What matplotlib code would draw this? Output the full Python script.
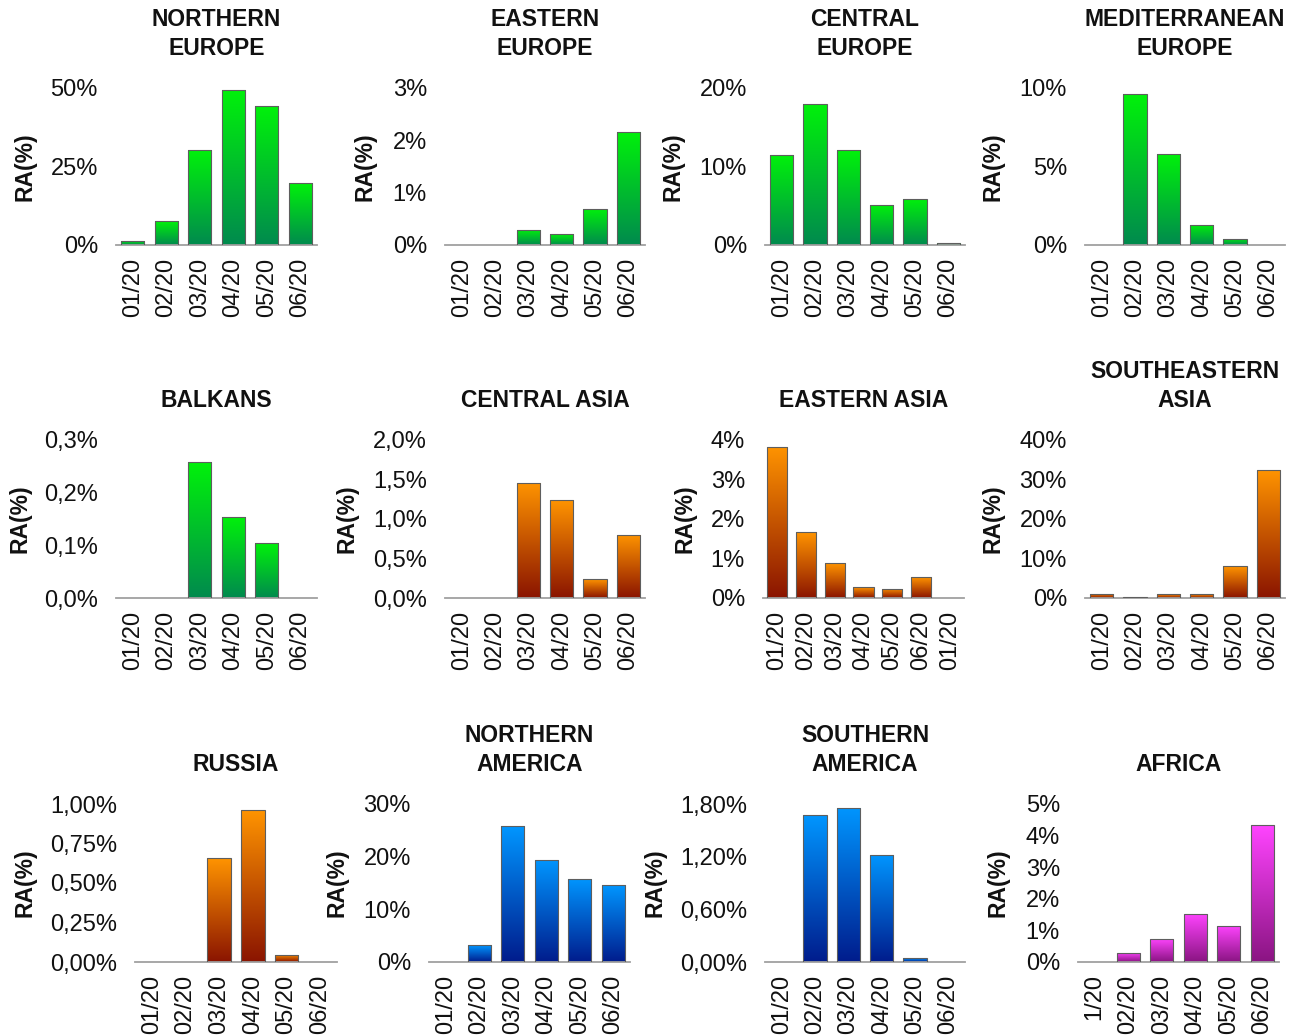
import numpy as np
import matplotlib
matplotlib.use("Agg")
import matplotlib.pyplot as plt
from matplotlib.colors import to_rgb
from matplotlib.ticker import FixedLocator, FuncFormatter

plt.rcParams['font.family'] = ['Liberation Sans', 'DejaVu Sans']

months = ['01/20', '02/20', '03/20', '04/20', '05/20', '06/20']
months_east_asia = months + ['01/20']
months_africa = ['1/20', '02/20', '03/20', '04/20', '05/20', '06/20']

# relative abundance per month, in percent
northern_europe = [1.3, 7.6, 30.3, 49.4, 44.3, 19.7]
eastern_europe = [0, 0, 0.29, 0.21, 0.69, 2.16]
central_europe = [11.5, 18.0, 12.1, 5.1, 5.9, 0.25]
mediterranean_europe = [0, 9.6, 5.8, 1.3, 0.4, 0]
balkans = [0, 0, 0.258, 0.154, 0.104, 0]
central_asia = [0, 0, 1.46, 1.24, 0.24, 0.80]
eastern_asia = [3.83, 1.66, 0.88, 0.27, 0.23, 0.53, 0]
southeastern_asia = [1.1, 0.2, 1.0, 1.0, 8.0, 32.4]
russia = [0, 0, 0.656, 0.96, 0.045, 0]
northern_america = [0, 3.2, 25.8, 19.4, 15.8, 14.6]
southern_america = [0, 1.672, 1.76, 1.22, 0.04, 0]
africa = [0, 0.29, 0.73, 1.52, 1.14, 4.33]

# gradient pairs (top, bottom)
GREEN = ('#00f20a', '#008a4e')
ORANGE = ('#ff9400', '#8a1400')
BLUE = ('#0096ff', '#001c8c')
MAGENTA = ('#ff44ff', '#8a1482')

# title, labels, values, y max, y step, decimals, colours,
# axes box in pixels (x0, x1, top, bottom), x of the y label
panels = [
    ('NORTHERN\nEUROPE', months, northern_europe, 50, 25, 0, GREEN, (116, 317, 88, 245), 25),
    ('EASTERN\nEUROPE', months, eastern_europe, 3, 1, 0, GREEN, (445, 645, 88, 245), 365),
    ('CENTRAL\nEUROPE', months, central_europe, 20, 10, 0, GREEN, (765, 965, 88, 245), 673),
    ('MEDITERRANEAN\nEUROPE', months, mediterranean_europe, 10, 5, 0, GREEN, (1085, 1285, 88, 245), 993),
    ('BALKANS', months, balkans, 0.3, 0.1, 1, GREEN, (116, 317, 440, 598), 20),
    ('CENTRAL ASIA', months, central_asia, 2.0, 0.5, 1, ORANGE, (445, 645, 440, 598), 347),
    ('EASTERN ASIA', months_east_asia, eastern_asia, 4, 1, 0, ORANGE, (763, 964, 440, 598), 685),
    ('SOUTHEASTERN\nASIA', months, southeastern_asia, 40, 10, 0, ORANGE, (1085, 1285, 440, 598), 993),
    ('RUSSIA', months, russia, 1.0, 0.25, 2, ORANGE, (135, 337, 804, 962), 25),
    ('NORTHERN\nAMERICA', months, northern_america, 30, 10, 0, BLUE, (429, 630, 804, 962), 337),
    ('SOUTHERN\nAMERICA', months, southern_america, 1.8, 0.6, 2, BLUE, (765, 965, 804, 962), 655),
    ('AFRICA', months_africa, africa, 5, 1, 0, MAGENTA, (1078, 1279, 804, 962), 998),
]

W, H = 1293, 1035
TXT = '#111111'


def pct_formatter(decimals):
    def fmt(v, pos):
        return (f'{v:.{decimals}f}%').replace('.', ',')
    return FuncFormatter(fmt)


def gradient_image(top, bottom, n=256):
    t = np.linspace(0, 1, n)[:, None]
    c0, c1 = np.array(to_rgb(bottom)), np.array(to_rgb(top))
    return (c0 + (c1 - c0) * t)[:, None, :]


fig = plt.figure(figsize=(W / 100, H / 100), dpi=100)

for title, labels, values, ymax, ystep, dec, colours, box, ylab_x in panels:
    x0, x1, top, bot = box
    ax = fig.add_axes([x0 / W, 1 - bot / H, (x1 - x0) / W, (bot - top) / H])
    x = np.arange(len(labels))
    bars = ax.bar(x, values, width=0.7, facecolor='none', edgecolor='#5e5e5e',
                  linewidth=0.8, zorder=3)
    img = gradient_image(*colours)
    for b in bars:
        h = b.get_height()
        if h <= 0:
            b.set_visible(False)
            continue
        im = ax.imshow(img, extent=[b.get_x(), b.get_x() + b.get_width(), 0, h],
                       aspect='auto', origin='lower', interpolation='bilinear', zorder=2)
        im.set_clip_path(b)

    ax.set_xlim(-0.5, len(labels) - 0.5)
    ax.set_ylim(0, ymax)
    ax.yaxis.set_major_locator(FixedLocator(np.arange(0, ymax + ystep / 2, ystep)))
    ax.yaxis.set_major_formatter(pct_formatter(dec))
    ax.set_xticks(x)
    ax.set_xticklabels(labels, rotation=90)
    ax.tick_params(axis='both', length=0, labelsize=17, colors=TXT)
    ax.tick_params(axis='y', pad=13)
    ax.tick_params(axis='x', pad=9)

    for s in ('left', 'right', 'top'):
        ax.spines[s].set_visible(False)
    ax.spines['bottom'].set_color('#a0a0a0')
    ax.spines['bottom'].set_linewidth(1.3)
    ax.patch.set_visible(False)

    ax.text((ylab_x - x0) / (x1 - x0), 0.5, 'RA(%)', transform=ax.transAxes,
            rotation=90, ha='center', va='center', fontsize=16.5,
            fontweight='bold', color=TXT)
    ax.annotate(title, xy=(0.5, 1), xycoords='axes fraction', xytext=(0, 20),
                textcoords='offset points', ha='center', va='bottom',
                fontsize=16.5, fontweight='bold', color=TXT, linespacing=1.35)

fig.savefig('out.png', dpi=100, facecolor='white')
